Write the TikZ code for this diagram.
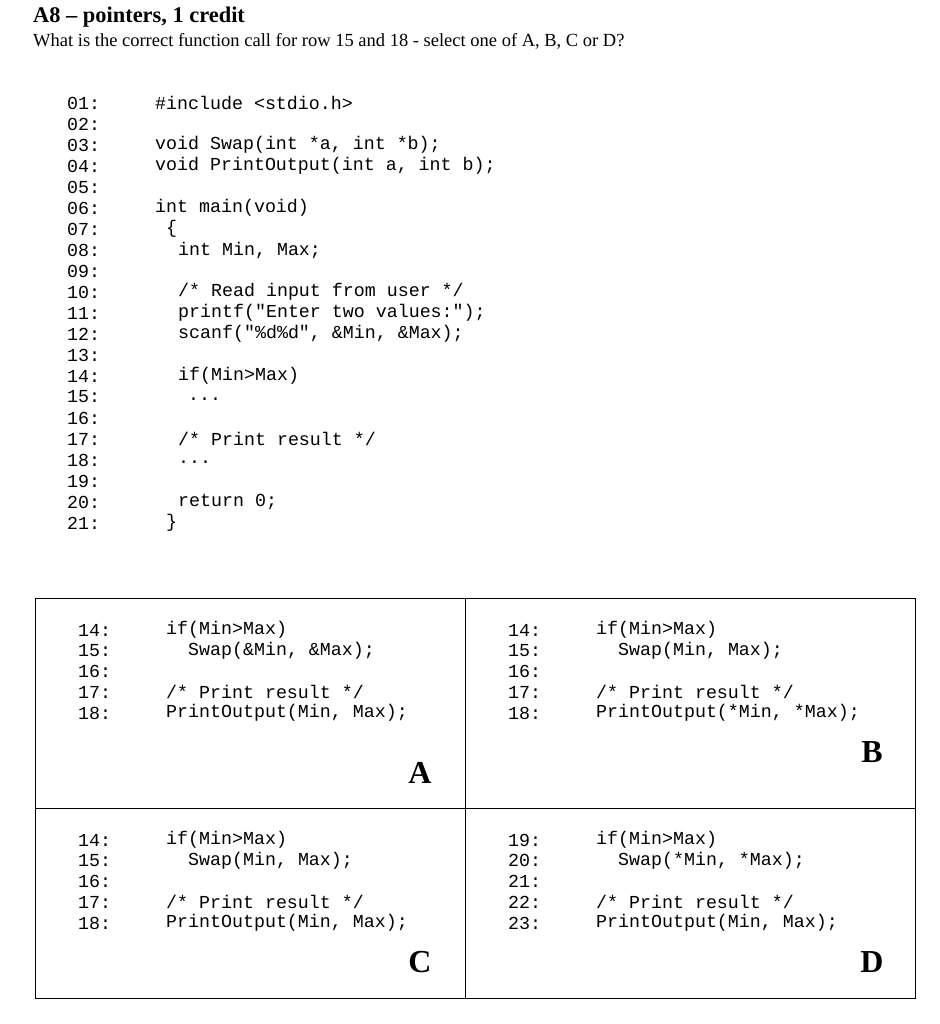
\documentclass[tikz,border=0pt]{standalone}
\usepackage{fontspec}
\setmainfont{Liberation Serif}
\setmonofont{Liberation Mono}
\begin{document}
\begin{tikzpicture}[x=1pt,y=-1pt,
  code/.style={anchor=west,inner sep=0pt,font=\fontsize{18.3}{18}\selectfont\ttfamily},
  letter/.style={anchor=center,inner sep=0pt,font=\fontsize{32}{32}\selectfont\bfseries},
  frame/.style={draw,line width=0.8pt}]
\useasboundingbox (0,0) rectangle (939,1024);
\node[anchor=west,inner sep=0pt,font=\fontsize{22.4}{22}\selectfont\bfseries] (title) at (33,17) {A8 -- pointers, 1 credit};
\node[anchor=west,inner sep=0pt,font=\fontsize{18.5}{18}\selectfont] (q) at (33,41) {What is the correct function call for row 15 and 18 - select one of A, B, C or D?};
% main listing
\foreach \n [count=\i] in {01,02,03,04,05,06,07,08,09,10,11,12,13,14,15,16,17,18,19,20,21}
  \node[code] (ln\i) at (67,{103+21*(\i-1)}) {\n:};
\node[code] (c1) at (155,103) {\#include <stdio.h>};
\node[code] (c3) at (155,145) {void Swap(int *a, int *b);};
\node[code] (c4) at (155,166) {void PrintOutput(int a, int b);};
\node[code] (c6) at (155,208) {int main(void)};
\node[code] (c7) at (166,229) {\{};
\node[code] (c8) at (178,250) {int Min, Max;};
\node[code] (c10) at (178,292) {/* Read input from user */};
\node[code] (c11) at (178,313) {printf("Enter two values:");};
\node[code] (c12) at (178,334) {scanf("\%d\%d", \&Min, \&Max);};
\node[code] (c14) at (178,376) {if(Min>Max)};
\node[code] (c15) at (188,399) {...};
\node[code] (c17) at (178,439) {/* Print result */};
\node[code] (c18) at (178,462) {...};
\node[code] (c20) at (178,502) {return 0;};
\node[code] (c21) at (166,523) {\}};
% boxes
\draw[frame] (35,598) rectangle (915,998);
\draw[frame] (465,598) -- (465,998);
\draw[frame] (35,808) -- (915,808);
% A
\foreach \n [count=\i] in {14,15,16,17,18} \node[code] (a\i) at (78,{630+20.8*(\i-1)}) {\n:};
\node[code] (aa) at (166,630) {if(Min>Max)};
\node[code] (ab) at (188,651) {Swap(\&Min, \&Max);};
\node[code] (ac) at (166,692) {/* Print result */};
\node[code] (ad) at (166,713) {PrintOutput(Min, Max);};
\node[letter] (LA) at (420,773) {A};
% B
\foreach \n [count=\i] in {14,15,16,17,18} \node[code] (b\i) at (508,{630+20.8*(\i-1)}) {\n:};
\node[code] (ba) at (596,630) {if(Min>Max)};
\node[code] (bb) at (618,651) {Swap(Min, Max);};
\node[code] (bc) at (596,692) {/* Print result */};
\node[code] (bd) at (596,713) {PrintOutput(*Min, *Max);};
\node[letter] (LB) at (872,752) {B};
% C
\foreach \n [count=\i] in {14,15,16,17,18} \node[code] (cc\i) at (78,{840+20.8*(\i-1)}) {\n:};
\node[code] (ca) at (166,840) {if(Min>Max)};
\node[code] (cb) at (188,861) {Swap(Min, Max);};
\node[code] (ccc) at (166,902) {/* Print result */};
\node[code] (cd) at (166,923) {PrintOutput(Min, Max);};
\node[letter] (LC) at (420,962) {C};
% D
\foreach \n [count=\i] in {19,20,21,22,23} \node[code] (d\i) at (508,{840+20.8*(\i-1)}) {\n:};
\node[code] (da) at (596,840) {if(Min>Max)};
\node[code] (db) at (618,861) {Swap(*Min, *Max);};
\node[code] (dc) at (596,902) {/* Print result */};
\node[code] (dd) at (596,923) {PrintOutput(Min, Max);};
\node[letter] (LD) at (872,962) {D};
\end{tikzpicture}
\end{document}
